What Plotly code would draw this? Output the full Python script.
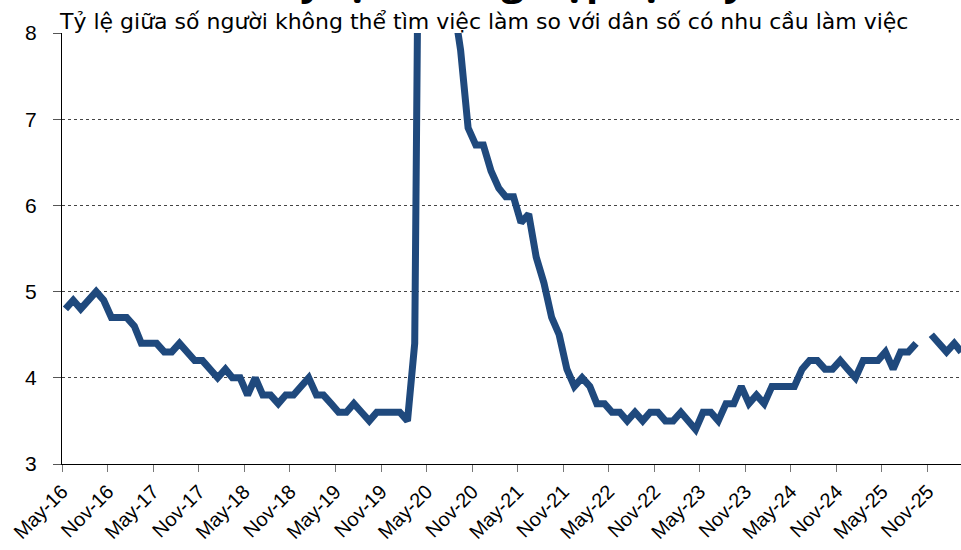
import pandas as pd
import plotly.graph_objects as go

# ---- data (US unemployment rate, %, monthly from May-2016) ----
start_month = "2016-05"
rate_2016 = [4.8, 4.9, 4.8, 4.9, 5.0, 4.9, 4.7, 4.7]  # May-Dec
rate_2017 = [4.7, 4.6, 4.4, 4.4, 4.4, 4.3, 4.3, 4.4, 4.3, 4.2, 4.2, 4.1]
rate_2018 = [4.0, 4.1, 4.0, 4.0, 3.8, 4.0, 3.8, 3.8, 3.7, 3.8, 3.8, 3.9]
rate_2019 = [4.0, 3.8, 3.8, 3.7, 3.6, 3.6, 3.7, 3.6, 3.5, 3.6, 3.6, 3.6]
rate_2020 = [3.6, 3.5, 4.4, 14.8, 13.2, 11.0, 10.2, 8.4, 7.8, 6.9, 6.7, 6.7]
rate_2021 = [6.4, 6.2, 6.1, 6.1, 5.8, 5.9, 5.4, 5.1, 4.7, 4.5, 4.1, 3.9]
rate_2022 = [4.0, 3.9, 3.7, 3.7, 3.6, 3.6, 3.5, 3.6, 3.5, 3.6, 3.6, 3.5]
rate_2023 = [3.5, 3.6, 3.5, 3.4, 3.6, 3.6, 3.5, 3.7, 3.7, 3.9, 3.7, 3.8]
rate_2024 = [3.7, 3.9, 3.9, 3.9, 3.9, 4.1, 4.2, 4.2, 4.1, 4.1, 4.2, 4.1]
rate_2025 = [4.0, 4.2, 4.2, 4.2, 4.3, 4.1, 4.3, 4.3, 4.4, None, 4.5, 4.4]
rate_2026 = [4.3, 4.4, 4.3]  # Jan-Mar

tick_labels = ["May-16", "Nov-16", "May-17", "Nov-17", "May-18", "Nov-18",
               "May-19", "Nov-19", "May-20", "Nov-20", "May-21", "Nov-21",
               "May-22", "Nov-22", "May-23", "Nov-23", "May-24", "Nov-24",
               "May-25", "Nov-25"]

title_text = "Tỷ lệ thất nghiệp tại Mỹ"
subtitle_text = "Tỷ lệ giữa số người không thể tìm việc làm so với dân số có nhu cầu làm việc"

# ---- build series ----
values = (rate_2016 + rate_2017 + rate_2018 + rate_2019 + rate_2020 + rate_2021
          + rate_2022 + rate_2023 + rate_2024 + rate_2025 + rate_2026)
dates = pd.date_range(start_month + "-01", periods=len(values), freq="MS") + pd.Timedelta(days=14)
tick_dates = pd.date_range(start_month + "-01", periods=len(tick_labels), freq="6MS")

LINE = "#1f497d"
FONT = "Liberation Sans, Arial, sans-serif"
TFONT = "DejaVu Sans, sans-serif"

fig = go.Figure()
fig.add_trace(go.Scatter(
    x=dates, y=values, mode="lines",
    line=dict(color=LINE, width=7),
    connectgaps=False, hoverinfo="x+y", showlegend=False,
))

fig.update_layout(
    width=961, height=550,
    margin=dict(l=62, r=0, t=33, b=86, autoexpand=False),
    paper_bgcolor="white", plot_bgcolor="white",
    font=dict(family=FONT, size=20, color="black"),
    xaxis=dict(
        type="date", range=["2016-05-01", "2026-03-14"],
        tickvals=tick_dates, ticktext=tick_labels, tickangle=-45,
        ticks="outside", ticklen=7, tickcolor="#777", tickwidth=1,
        showline=True, linecolor="black", linewidth=1,
        showgrid=False, zeroline=False, automargin=False,
        tickfont=dict(family=FONT, size=20, color="black"),
    ),
    yaxis=dict(
        range=[3, 8], tickvals=[3, 4, 5, 6, 7, 8],
        ticks="outside", ticklen=8, tickcolor="#555", tickwidth=1,
        ticklabelstandoff=12, automargin=False,
        showline=True, linecolor="black", linewidth=1,
        showgrid=True, gridcolor="#444", griddash="dot", gridwidth=1,
        zeroline=False,
        tickfont=dict(family=FONT, size=21, color="black"),
    ),
)

fig.add_annotation(
    text=subtitle_text, xref="paper", yref="paper",
    x=-0.006, y=1.0, xanchor="left", yanchor="bottom", yshift=-3,
    showarrow=False, font=dict(family=TFONT, size=22, color="black"),
)
fig.add_annotation(
    text="<b>" + title_text + "</b>", xref="paper", yref="paper",
    x=0.5, y=1.0, xanchor="center", yanchor="bottom", yshift=24,
    showarrow=False, font=dict(family="Open Sans, sans-serif", size=40, color="black"),
)

fig.write_html("out.html", config={"displayModeBar": False},
               post_script="document.body.style.margin='0';document.body.style.overflow='hidden';")
